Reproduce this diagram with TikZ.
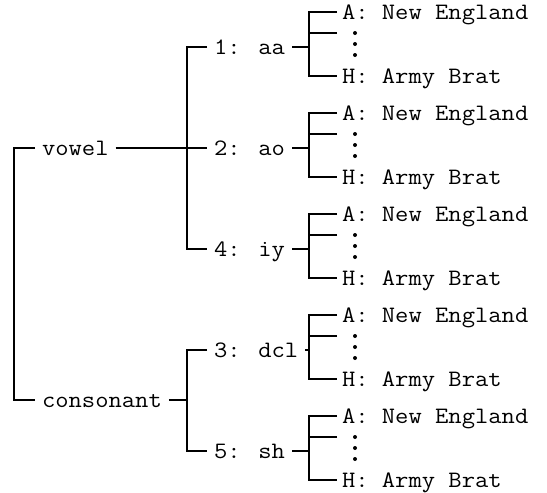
\documentclass[tikz,border=0pt]{standalone}
\usepackage{fontspec}
\newfontfamily\treefont{Latin Modern Mono}[FakeStretch=1.1]
\begin{document}
\begin{tikzpicture}[x=1pt,y=-1pt,line width=2pt,line join=miter,
  lbl/.style={font=\treefont\fontsize{23.5}{28}\selectfont,inner xsep=6pt,inner ysep=0pt,
    text height=14pt,text depth=0pt,anchor=west},
  leaf/.style={lbl,inner xsep=4pt},
  dot/.style={fill=black,draw=none}]
\useasboundingbox (0,0) rectangle (547,493);

% top split
\node[lbl] (v) at (35,148) {vowel};
\node[lbl] (c) at (35,400) {consonant};
\coordinate (xt) at (14,274);
\draw (v.west) -| (xt) |- (c.west);

% phone groups with their leaves
\foreach \n/\g/\t in {1/47/{1: aa},2/148/{2: ao},4/249/{4: iy},3/350/{3: dcl},5/451/{5: sh}}{
  \node[lbl] (g\n) at (207,\g) {\t};
  \node[leaf] (g\n a) at (337,\g-35) {A: New England};
  \coordinate (g\n m) at (337,\g-14);
  \node[leaf] (g\n h) at (337,\g+29) {H: Army Brat};
  \coordinate (g\n x) at (309,\g);
  \draw (g\n.east) -- (g\n x);
  \draw (g\n a.west) -| (g\n x) |- (g\n h.west);
  \draw (g\n m) -- (g\n m -| g\n x);
  \foreach \d in {-14,-3,8}{\fill[dot] (355,\g+\d) circle (2);}
}

% vowel branch
\coordinate (xv) at (187,148);
\draw (g1.west) -| (xv) |- (g4.west);
\draw (v.east) -- (g2.west);

% consonant branch
\coordinate (xc) at (187,400);
\draw (g3.west) -| (xc) |- (g5.west);
\draw (c.east) -- (xc);
\end{tikzpicture}
\end{document}
